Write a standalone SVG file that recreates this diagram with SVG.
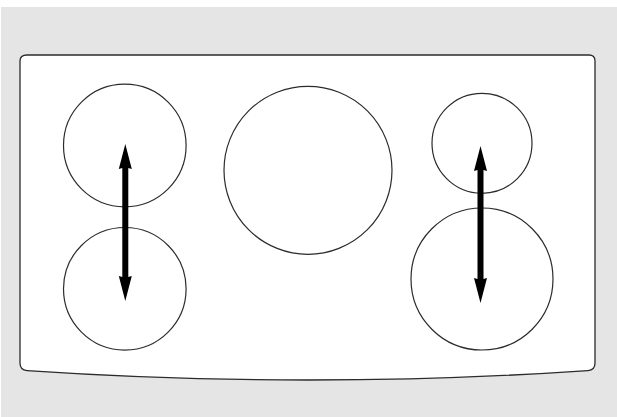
<svg xmlns="http://www.w3.org/2000/svg" width="617" height="417" viewBox="0 0 617 417">
<style>
.o{fill:none;stroke:#2b2b2b;stroke-width:1.2}
.a{fill:#000;stroke:none}
</style>
<defs>
<path id="arr" d="M0 0L6.5 25L3 24V133L6.5 132L0 157L-6.5 132L-3 133V24L-6.5 25Z"/>
</defs>
<rect width="617" height="417" fill="#fff"/>
<rect x="1" y="7" width="616" height="410" fill="#e5e5e5"/>
<g id="cooktop"><path d="M27 55H589Q595 55 595 61V363Q595 370 588 370.6Q450 380 308 380Q166 380 27 370.6Q20 370 20 363V61Q20 55 27 55Z" fill="#fff" stroke="#2b2b2b" stroke-width="1.3"/></g>
<g id="burner-1"><circle class="o" cx="124.8" cy="145.5" r="61.3"/></g>
<g id="burner-2"><circle class="o" cx="124.8" cy="288.8" r="61.3"/></g>
<g id="burner-3"><circle class="o" cx="308" cy="170.3" r="84"/></g>
<g id="burner-4"><circle class="o" cx="482" cy="143.3" r="50"/></g>
<g id="burner-5"><circle class="o" cx="482" cy="279" r="71"/></g>
<g id="connectors">
<use href="#arr" class="a" x="125.3" y="144"/>
<use href="#arr" class="a" x="480.5" y="146"/>
</g>
</svg>
